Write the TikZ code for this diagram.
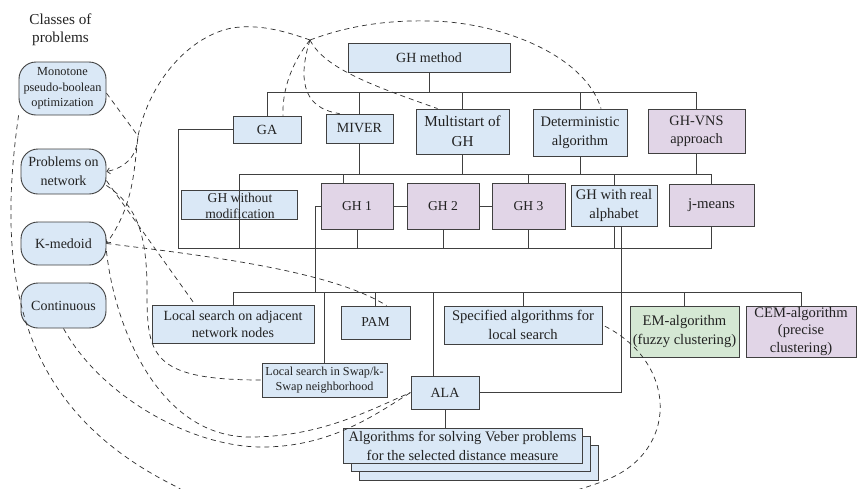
\documentclass[tikz,border=0pt]{standalone}
\usepackage{fontspec}
\setmainfont{Liberation Serif}
\usetikzlibrary{arrows.meta}
\definecolor{boxblue}{RGB}{218,232,246}
\definecolor{boxpurple}{RGB}{225,213,231}
\definecolor{boxgreen}{RGB}{213,232,212}
\definecolor{edge}{RGB}{64,64,64}
\definecolor{ink}{RGB}{34,34,34}
\definecolor{linkgray}{RGB}{45,45,45}
\newcommand{\fs}[2]{\fontsize{#1}{#2}\selectfont}
\begin{document}
\begin{tikzpicture}[x=1pt,y=-1pt,
  font=\fs{14.3}{18.5},
  box/.style={draw=edge,line width=0.9pt,fill=boxblue,align=center,inner sep=0pt,text=ink},
  purplebox/.style={box,fill=boxpurple},
  greenbox/.style={box,fill=boxgreen},
  classbox/.style={box,rounded corners=17pt},
  wire/.style={draw=edge,line width=0.9pt},
  link/.style={draw=linkgray,line width=0.7pt,dash pattern=on 5pt off 4pt},
  into/.style={-{Straight Barb[length=3pt,width=6pt]}},
]
\fill[white] (0,0) rectangle (857,488);
\clip (0,0) rectangle (857,488);

% problem classes
\node[text=ink,align=center,font=\fs{15.2}{18}] (title) at (60.5,30) {Classes of\\problems};
\node[classbox,minimum width=87pt,minimum height=53pt,font=\fs{12.3}{15.5}] (mono) at (62.5,88.5) {Monotone\\pseudo-boolean\\optimization};
\node[classbox,minimum width=85pt,minimum height=45pt,font=\fs{14}{19}] (net) at (63.5,171.5) {Problems on\\network};
\node[classbox,minimum width=85pt,minimum height=43pt,font=\fs{14}{19}] (kmed) at (63.5,243.5) {K-medoid};
\node[classbox,minimum width=85pt,minimum height=45pt,font=\fs{14}{19}] (cont) at (63.5,305.5) {Continuous};

% GH family
\node[box,minimum width=162pt,minimum height=29pt,font=\fs{14}{18}] (ghm) at (429,57.5) {GH method};
\node[box,minimum width=68pt,minimum height=27pt,font=\fs{14}{18}] (ga) at (267,129.5) {GA};
\node[box,minimum width=67pt,minimum height=29pt,font=\fs{14}{18}] (miver) at (359.5,128.5) {MIVER};
\node[box,minimum width=93pt,minimum height=45pt,font=\fs{15.2}{20}] (multi) at (462.5,131.5) {Multistart of\\GH};
\node[box,minimum width=94pt,minimum height=47pt,font=\fs{14.5}{19}] (det) at (580,132.5) {Deterministic\\algorithm};
\node[purplebox,minimum width=97pt,minimum height=44pt,font=\fs{14.3}{18}] (vns) at (696.5,131) {GH-VNS\\approach};

\node[box,minimum width=116pt,minimum height=29pt] (ghwo) at (239,204.5) {};
\node[purplebox,minimum width=72pt,minimum height=46pt,font=\fs{13.6}{18}] (gh1) at (357,206) {GH 1};
\node[purplebox,minimum width=72pt,minimum height=46pt,font=\fs{13.6}{18}] (gh2) at (443,206) {GH 2};
\node[purplebox,minimum width=73pt,minimum height=46pt,font=\fs{13.6}{18}] (gh3) at (528.5,206) {GH 3};
\node[box,minimum width=86pt,minimum height=41pt,font=\fs{14.6}{19.5}] (ghra) at (614,205.5) {GH with real\\alphabet};
\node[purplebox,minimum width=85pt,minimum height=42pt,font=\fs{14.8}{18}] (jm) at (711.5,205) {j-means};

% local search and clustering algorithms
\node[box,minimum width=162pt,minimum height=38pt,font=\fs{14}{17}] (lsan) at (233,324) {Local search on adjacent\\network nodes};
\node[box,minimum width=69pt,minimum height=33pt,font=\fs{13.6}{18}] (pam) at (375.5,322.5) {PAM};
\node[box,minimum width=158pt,minimum height=38pt,font=\fs{14.6}{19}] (spec) at (523,325) {Specified algorithms for\\local search};
\node[greenbox,minimum width=109pt,minimum height=51pt,font=\fs{14.6}{19.5}] (em) at (684.5,331.5) {EM-algorithm\\(fuzzy clustering)};
\node[purplebox,minimum width=110pt,minimum height=51pt,font=\fs{14.6}{17.5}] (cem) at (801,331.5) {CEM-algorithm\\(precise\\clustering)};
\node[box,minimum width=125pt,minimum height=34pt,font=\fs{12.2}{15.5}] (swap) at (324.5,380) {Local search in Swap/k-\\Swap neighborhood};
\node[box,minimum width=68pt,minimum height=33pt,font=\fs{14}{18}] (ala) at (445,392.5) {ALA};

% stacked boxes for the Veber problem solvers
\node[box,minimum width=239pt,minimum height=35pt] (veb3) at (478.5,462.5) {};
\node[box,minimum width=239pt,minimum height=35pt] (veb2) at (470.5,454) {};
\node[box,minimum width=239pt,minimum height=35pt,font=\fs{14.5}{19}] (veb) at (462.5,445.5) {Algorithms for solving Veber problems\\for the selected distance measure};

% bus coordinates
\coordinate (b1L) at (267,92);
\coordinate (b1R) at (696.5,92);
\coordinate (b2L) at (239,174);
\coordinate (b2R) at (711.5,174);
\coordinate (b3L) at (178,248);
\coordinate (b3R) at (711.5,248);
\coordinate (b4L) at (233,292);
\coordinate (b4R) at (801,292);
\coordinate (gh1drop) at (315,292);

% first level
\draw[wire] (b1L) -- (b1R);
\draw[wire] (ghm.south) -- (ghm.south |- b1L);
\foreach \n in {ga,miver,multi,det,vns} \draw[wire] (\n.north) -- (\n.north |- b1L);

% second level
\draw[wire] (b2L) -- (b2R);
\foreach \n in {miver,multi,det,vns} \draw[wire] (\n.south) -- (\n.south |- b2L);
\draw[wire] (ghwo.north) -- (ghwo.north |- b2L);
\draw[wire] ([xshift=-14pt]gh1.north) -- ([xshift=-14pt]gh1.north |- b2L);
\foreach \n in {gh3,ghra,jm} \draw[wire] (\n.north) -- (\n.north |- b2L);

% third level
\draw[wire] (b3L) -- (b3R);
\draw[wire] (ga.west) -| (b3L);
\draw[wire] (ghwo.north) -- (ghwo.south);
\foreach \n in {ghwo,gh1,gh2,gh3,ghra,jm} \draw[wire] (\n.south) -- (\n.south |- b3L);
\draw[wire] (gh1.east) -- (gh2.west);
\draw[wire] (gh2.east) -- (gh3.west);
\node[align=center,text=ink,font=\fs{13.6}{16}] (ghwolabel) at (240,205.5) {GH without\\modification};

% fourth level
\draw[wire] (b4L) -- (b4R);
\draw[wire] (gh1.west) -| (gh1drop);
\foreach \n in {lsan,swap,pam,spec,em,cem} \draw[wire] (\n.north) -- (\n.north |- b4L);
\draw[wire] ([xshift=-12pt]ala.north) -- ([xshift=-12pt]ala.north |- b4L);
\draw[wire] ([xshift=7pt]ghra.south) |- (ala.east);
\draw[wire] (ala.south) -- (ala.south |- veb.north);

% dashed links between problem classes and methods
\coordinate (hub) at (310,40);
\coordinate (arctop) at (232,28);
\coordinate (jct) at (138,136);
\coordinate (crest) at (430,21);
\coordinate (swapbend) at (147,290);
\coordinate (lowA) at (250,437);
\coordinate (lowB) at (262,447);
\coordinate (under1) at (177,487);
\coordinate (under2) at (613,477);

\draw[link,into] (hub) .. controls (282,30) and (257,24) .. (arctop)
  .. controls (190,36) and (150,80) .. (jct)
  .. controls (134,170) and (134,205) .. (kmed.east);
\draw[link,into] (jct) .. controls (137,158) and (124,168) .. (net.east);
\draw[link] (mono.-6) -- (jct);
\draw[link] (hub) .. controls (292,62) and (282,90) .. ([xshift=16pt]ga.north);
\draw[link] (hub) .. controls (299,75) and (300,108) .. ([xshift=14pt]miver.north west);
\draw[link] (hub) .. controls (325,70) and (380,88) .. ([xshift=-25pt]multi.north);
\draw[link] (hub) .. controls (350,25) and (390,20) .. (crest)
  .. controls (500,22) and (585,55) .. ([xshift=21pt]det.north);
\draw[link] (kmed.east) .. controls (200,255) and (330,270) .. ([xshift=11pt]pam.north);
\draw[link] (net.-12) -- ([xshift=-38pt]lsan.north);
\draw[link] (net.-18) .. controls (135,205) and (147,230) .. (swapbend)
  .. controls (147,355) and (150,380) .. (swap.west);
\draw[link] (kmed.-10) .. controls (115,330) and (160,437) .. (lowA)
  .. controls (320,437) and (370,410) .. (ala.west);
\draw[link] (cont.south) .. controls (100,395) and (190,447) .. (lowB)
  .. controls (330,447) and (375,415) .. (ala.west);
\draw[link] (mono.south west) .. controls (-5,280) and (20,410) .. (under1)
  .. controls (250,535) and (520,520) .. (under2)
  .. controls (680,445) and (675,360) .. (spec.east);
\end{tikzpicture}
\end{document}
